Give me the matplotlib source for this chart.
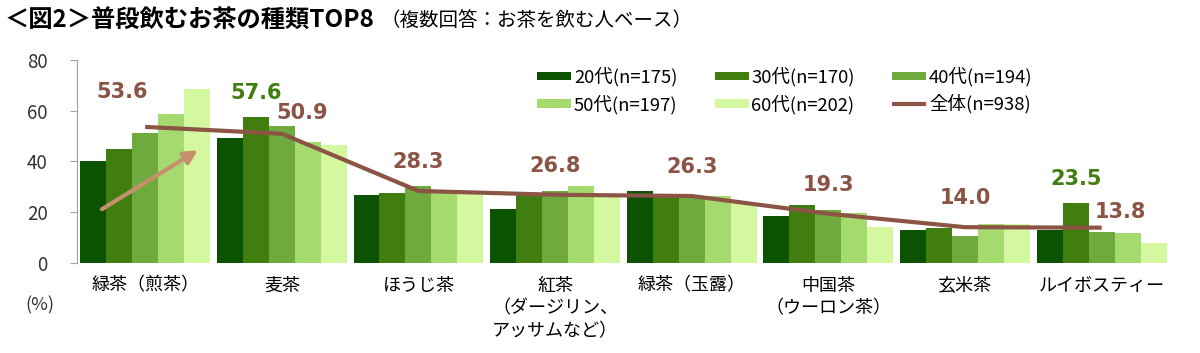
import matplotlib
matplotlib.use("Agg")
import matplotlib.pyplot as plt
import numpy as np

plt.rcParams['font.family'] = ['Noto Sans CJK JP', 'DejaVu Sans']

# data
categories = ["緑茶（煎茶）", "麦茶", "ほうじ茶", "紅茶\n（ダージリン、\nアッサムなど）",
              "緑茶（玉露）", "中国茶\n（ウーロン茶）", "玄米茶", "ルイボスティー"]
age_labels = ["20代(n=175)", "30代(n=170)", "40代(n=194)", "50代(n=197)", "60代(n=202)"]
age20 = [40.2, 49.1, 26.7, 21.0, 28.4, 18.5, 12.9, 12.9]
age30 = [45.0, 57.6, 27.4, 27.5, 26.5, 22.8, 13.8, 23.5]
age40 = [51.3, 53.9, 30.3, 28.1, 26.2, 20.8, 10.7, 12.2]
age50 = [58.7, 47.5, 27.3, 30.3, 26.3, 19.5, 15.3, 11.8]
age60 = [68.6, 46.4, 27.0, 26.6, 23.5, 14.2, 15.3, 7.6]
total_label = "全体(n=938)"
total = [53.6, 50.9, 28.3, 26.8, 26.3, 19.3, 14.0, 13.8]

colors = ["#0B5300", "#3F7E0F", "#6EAA3E", "#A4DA6E", "#D4F8A0"]
line_color = "#8B5444"
green_text = "#3F7E0F"

# label offsets in pixels for the total values (dx, dy)
total_offsets = [(-23, 35), (20, 21), (0, 29), (0, 29), (0, 29), (0, 29), (0, 29), (19, 16)]

fig = plt.figure(figsize=(12, 3.53), dpi=100)
ax = fig.add_axes([0.064, 0.256, 0.911, 0.574])

x = np.arange(len(categories))
w = 0.19
series = [age20, age30, age40, age50, age60]
bars = []
for i, vals in enumerate(series):
    b = ax.bar(x + (i - 2) * w, vals, w, color=colors[i], label=age_labels[i], zorder=2)
    bars.append(b)

ln, = ax.plot(x, total, color=line_color, lw=3, zorder=3, label=total_label,
              solid_capstyle='butt')

for xi, v, (dx, dy) in zip(x, total, total_offsets):
    ax.annotate(f"{v:.1f}", (xi + dx / 137.0, v), xytext=(0, dy), textcoords='offset pixels',
                ha='center', va='center', fontsize=15, fontweight='bold',
                color=line_color, family='DejaVu Sans')

# the 30代 highlights
for ci in [1, 7]:
    ax.annotate(f"{age30[ci]:.1f}", (x[ci] - w, age30[ci]), xytext=(0, 24),
                textcoords='offset pixels', ha='center', va='center', fontsize=15,
                fontweight='bold', color=green_text, family='DejaVu Sans')

# rising trend arrow in the first group
ax.annotate("", xy=(0.387, 44.4), xytext=(-0.316, 21.1),
            arrowprops=dict(arrowstyle='-|>', color="#C4906E", lw=3, mutation_scale=20,
                            shrinkA=0, shrinkB=0), zorder=4)

ax.set_xlim(-0.5, 7.5)
ax.set_ylim(0, 80)
ax.set_yticks([0, 20, 40, 60, 80])
ax.set_xticks(x)
ax.set_xticklabels(categories, fontsize=13, linespacing=1.35)
ax.tick_params(axis='x', length=0, pad=10)
ax.tick_params(axis='y', length=5, color="#A0A0A0", pad=16, labelsize=13.5, labelcolor="#333333")
for s in ['top', 'right', 'bottom']:
    ax.spines[s].set_visible(False)
ax.spines['left'].set_color("#A0A0A0")

handles = [bars[0], bars[3], bars[1], bars[4], bars[2], ln]
labels = [age_labels[0], age_labels[3], age_labels[1], age_labels[4], age_labels[2], total_label]
fig.legend(handles, labels, loc='upper left', bbox_to_anchor=(0.4475, 0.81), ncol=3,
           frameon=False, fontsize=13.3, handlelength=1.85, handleheight=0.35,
           handletextpad=0.15, columnspacing=2.0, labelspacing=0.42, borderpad=0,
           borderaxespad=0)

fig.text(40 / 1200, 1 - 305 / 353, "(%)", ha='center', va='center', fontsize=13, color="#333333")

t = fig.text(0.004, 0.943, "＜図2＞普段飲むお茶の種類TOP8", ha='left', va='center',
             fontsize=17.5, fontweight='bold')
fig.canvas.draw()
bb = t.get_window_extent()
fig.text((bb.x1 + 6) / 1200, 0.943, "（複数回答：お茶を飲む人ベース）", ha='left', va='center',
         fontsize=14)

fig.savefig("out.png", dpi=100)
